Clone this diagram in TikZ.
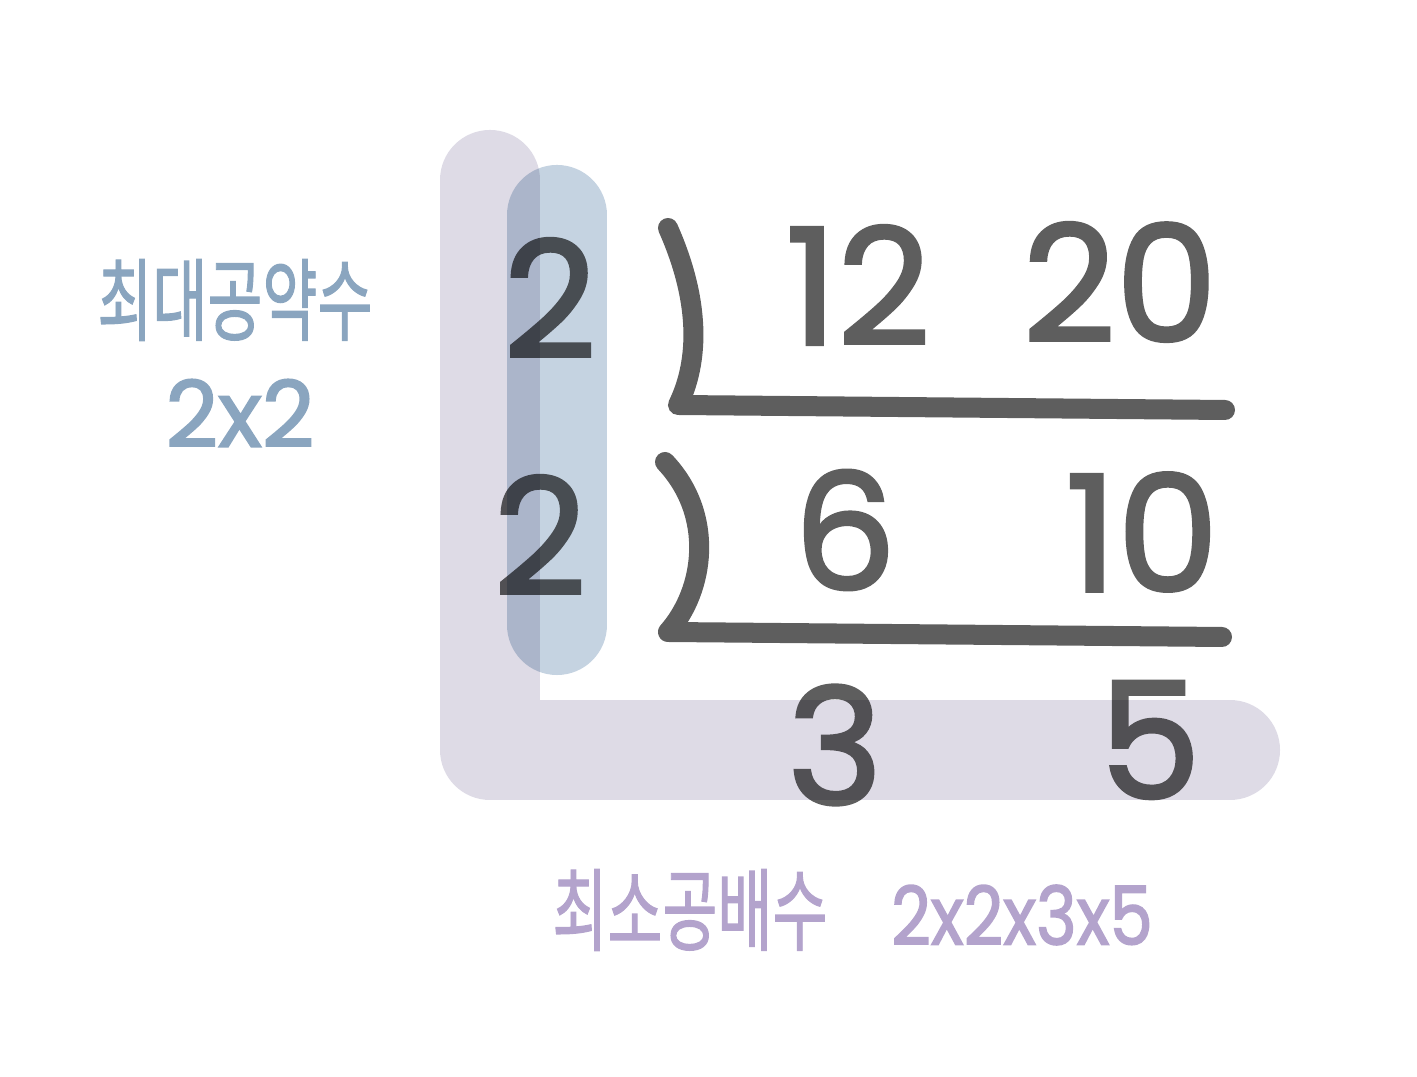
\documentclass[tikz,border=0pt]{standalone}
\usepackage{fontspec}
\setmainfont{Poppins}
\newfontfamily\digitfont{Poppins}[FakeBold=2]
\newfontfamily\krfont{Noto Sans CJK KR}[FakeBold=1.5]
\usetikzlibrary{positioning}
\definecolor{ink}{HTML}{5E5E5E}
\definecolor{gcdblue}{HTML}{8AA5BF}
\definecolor{lcmpurple}{HTML}{B3A3CC}
\definecolor{lavband}{HTML}{DEDBE6}
\definecolor{blueband}{HTML}{C5D3E1}

\begin{document}
\begin{tikzpicture}[x=0.01cm, y=-0.01cm,
  digit/.style={text=ink, font=\digitfont\fontsize{46}{46}\selectfont},
  stroke/.style={ink, line width=0.2cm, line cap=round, line join=round},
  band/.style={line width=1cm, line cap=round}]
  \useasboundingbox (0,0) rectangle (1417,1077);
  % ladder
  \draw[stroke] (668,228) .. controls (700,300) and (700,360) .. (678,405) -- (1225,410);
  \draw[stroke] (665,462) .. controls (715,515) and (705,590) .. (668,632) -- (1222,637);
  \node[digit] (d1) at (550,298) {2};
  \node[digit] (n12) at (858,285) {12};
  \node[digit] (n20) at (1120,282) {20};
  \node[digit] (d2) at (540,535) {2};
  \node[digit] (n6) at (845,530) {6};
  \node[digit] (n10) at (1142,532) {10};
  \node[digit] (q3) at (835,745) {3};
  \node[digit] (q5) at (1150,740) {5};
  % highlight bands
  \begin{scope}[blend mode=multiply]
    \draw[band, lavband, line join=round] (490,180) -- (490,750) -- (1230,750);
    \draw[band, blueband] (557,215) -- (557,625);
  \end{scope}
  % labels
  \node[text=gcdblue, font=\krfont\fontsize{17}{17}\selectfont, yscale=1.5] (gcd) at (235,300) {최대공약수};
  \node[text=gcdblue, font=\digitfont\fontsize{26}{26}\selectfont] (gcdval) at (240,413) {2x2};
  \node[text=lcmpurple, font=\krfont\fontsize{17}{17}\selectfont, yscale=1.5] (lcm) at (690,910) {최소공배수};
  \node[text=lcmpurple, font=\digitfont\fontsize{23}{23}\selectfont, xscale=0.85] (lcmval) at (1022,915) {2x2x3x5};
\end{tikzpicture}
\end{document}
